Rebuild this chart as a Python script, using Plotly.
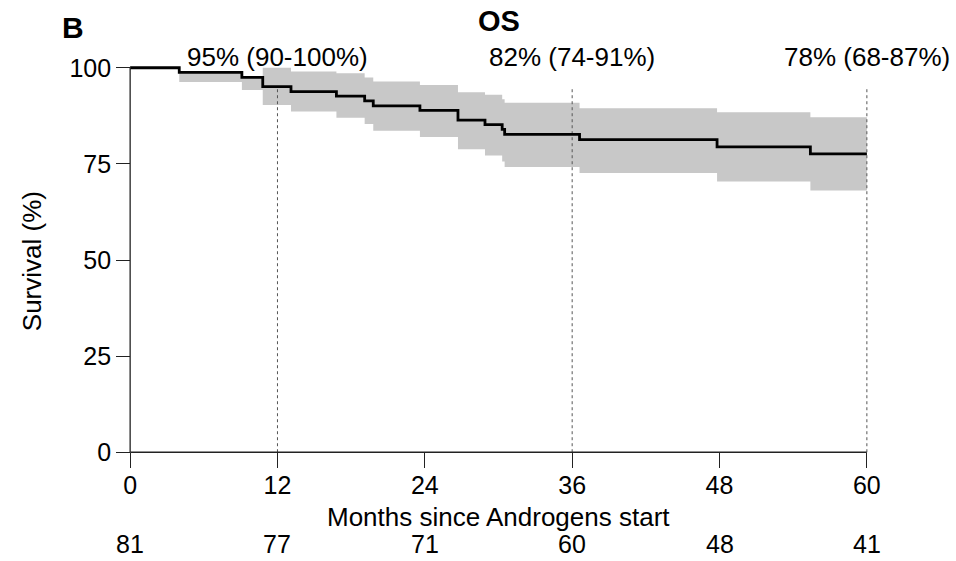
import plotly.graph_objects as go

# Kaplan-Meier overall survival, step times in months since androgens start
months = [0, 4.0, 9.1, 10.8, 13.1, 16.8, 19.1, 19.8, 23.6, 26.7, 28.9, 30.3, 30.5, 36.6, 47.8, 55.4]
survival = [100, 98.8, 97.5, 95.1, 93.8, 92.6, 91.4, 90.1, 88.9, 86.4, 85.2, 84.0, 82.7, 81.3, 79.4, 77.6]
ci_upper = [100, 98.8, 97.5, 100, 99.0, 98.6, 97.5, 96.4, 95.5, 93.6, 93.0, 91.8, 90.9, 89.5, 88.4, 87.1]
ci_lower = [100, 96.3, 94.2, 90.3, 88.6, 87.0, 85.4, 83.6, 82.0, 78.8, 77.2, 75.6, 74.2, 72.6, 70.4, 68.1]
follow_end = 60

# landmark estimates
landmark_months = [12, 36, 60]
landmark_labels = ["95% (90-100%)", "82% (74-91%)", "78% (68-87%)"]
landmark_top = 95

# axes and numbers at risk
tick_months = [0, 12, 24, 36, 48, 60]
at_risk = [81, 77, 71, 60, 48, 41]
y_ticks = [0, 25, 50, 75, 100]

FONT = "Liberation Sans, Arial, sans-serif"
INK = "#000000"
AXIS = "#222222"
BAND = "rgb(200,200,200)"

# figure geometry (pixels)
W, H = 956, 561
x_lo, x_hi = -0.5, 60.5
y_lo, y_hi = -1.5, 101.5
px_per_month = (867 - 130) / 60
px_per_pct = (452 - 68) / 100
m_l = 130 + x_lo * px_per_month
m_r = W - (867 + (x_hi - 60) * px_per_month)
m_t = 68 - (y_hi - 100) * px_per_pct
m_b = H - (452 + (0 - y_lo) * px_per_pct)
plot_w = W - m_l - m_r
plot_h = H - m_t - m_b


def paper_x(px):
    return (px - m_l) / plot_w


def paper_y(py):
    return (H - m_b - py) / plot_h


# extend step series to end of follow-up
t = months + [follow_end]
s = survival + [survival[-1]]
up = ci_upper + [ci_upper[-1]]
lo = ci_lower + [ci_lower[-1]]

fig = go.Figure()

fig.add_trace(go.Scatter(x=t, y=lo, mode="lines", line=dict(shape="hv", width=0, color=BAND),
                         hoverinfo="skip", showlegend=False))
fig.add_trace(go.Scatter(x=t, y=up, mode="lines", line=dict(shape="hv", width=0, color=BAND),
                         fill="tonexty", fillcolor=BAND, hoverinfo="skip", showlegend=False))

for m in landmark_months:
    fig.add_trace(go.Scatter(x=[m, m], y=[0, landmark_top], mode="lines",
                             line=dict(color="#555555", width=1, dash="dot"),
                             hoverinfo="skip", showlegend=False))

fig.add_trace(go.Scatter(x=t, y=s, mode="lines", line=dict(shape="hv", width=2.8, color="#000000"),
                         name="OS", showlegend=False))

# axis lines spanning only the labelled range
fig.add_shape(type="line", xref="x", yref="y", x0=0, x1=60, y0=0, y1=0,
              line=dict(color=AXIS, width=1.3))
fig.add_shape(type="line", xref="x", yref="y", x0=0, x1=0, y0=0, y1=100,
              line=dict(color=AXIS, width=1.3))

annotations = []
for m, lab in zip(landmark_months, landmark_labels):
    annotations.append(dict(x=m, y=paper_y(57), xref="x", yref="paper", text=lab,
                            showarrow=False, xanchor="center", yanchor="middle",
                            font=dict(family=FONT, size=26, color=INK)))
for m, n in zip(tick_months, at_risk):
    annotations.append(dict(x=m, y=paper_y(560), xref="x", yref="paper", text=str(n),
                            showarrow=False, xanchor="center", yanchor="bottom",
                            font=dict(family=FONT, size=25, color=INK)))
annotations.append(dict(x=30, y=paper_y(517), xref="x", yref="paper",
                        text="Months since Androgens start", showarrow=False,
                        xanchor="center", yanchor="middle",
                        font=dict(family=FONT, size=26, color=INK)))
annotations.append(dict(x=paper_x(32), y=paper_y(261), xref="paper", yref="paper",
                        text="Survival (%)", textangle=-90, showarrow=False,
                        xanchor="center", yanchor="middle",
                        font=dict(family=FONT, size=26, color=INK)))
annotations.append(dict(x=30, y=paper_y(21), xref="x", yref="paper", text="<b>OS</b>",
                        showarrow=False, xanchor="center", yanchor="middle",
                        font=dict(family=FONT, size=29, color=INK)))
annotations.append(dict(x=paper_x(73), y=paper_y(28), xref="paper", yref="paper", text="<b>B</b>",
                        showarrow=False, xanchor="center", yanchor="middle",
                        font=dict(family=FONT, size=30, color=INK)))

fig.update_layout(
    width=W, height=H,
    margin=dict(l=m_l, r=m_r, t=m_t, b=m_b, pad=0),
    paper_bgcolor="white", plot_bgcolor="white",
    showlegend=False,
    annotations=annotations,
    xaxis=dict(range=[x_lo, x_hi], anchor="free", position=paper_y(452), side="bottom",
               tickvals=tick_months, ticktext=[str(v) for v in tick_months],
               ticks="outside", ticklen=15, tickwidth=1.3, tickcolor=AXIS,
               ticklabelstandoff=-4,
               showline=False, showgrid=False, zeroline=False,
               tickfont=dict(family=FONT, size=25, color=INK)),
    yaxis=dict(range=[y_lo, y_hi], anchor="free", position=paper_x(130), side="left",
               tickvals=y_ticks, ticktext=[str(v) for v in y_ticks],
               ticks="outside", ticklen=14, tickwidth=1.3, tickcolor=AXIS,
               showline=False, showgrid=False, zeroline=False,
               tickfont=dict(family=FONT, size=25, color=INK)),
)

fig.write_html("out.html")
